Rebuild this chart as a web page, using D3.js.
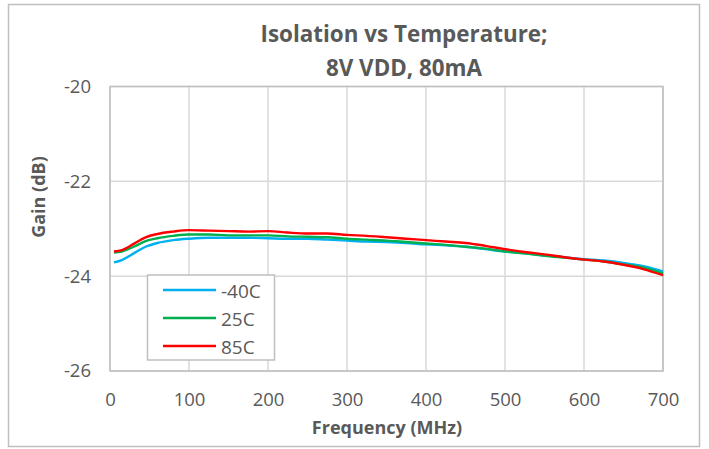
<!DOCTYPE html>
<html>
<head>
<meta charset="utf-8">
<script src="https://cdn.jsdelivr.net/npm/d3@7"></script>
<style>
  html, body { margin: 0; padding: 0; background: #fff; }
  svg { display: block; }
  text { font-family: "Open Sans", "Noto Sans", sans-serif; fill: #595959; }
</style>
</head>
<body>
<svg id="chart" width="709" height="449"></svg>
<script>
const freq = [5, 15, 30, 45, 60, 80, 100, 125, 150, 175, 200, 225, 250, 275, 300, 325, 350, 375, 400, 425, 450, 475, 500, 525, 550, 575, 600, 625, 650, 675, 700];
const gainM40 = [-23.71, -23.66, -23.52, -23.38, -23.30, -23.24, -23.21, -23.19, -23.19, -23.19, -23.20, -23.21, -23.21, -23.23, -23.25, -23.27, -23.28, -23.30, -23.33, -23.35, -23.38, -23.43, -23.48, -23.52, -23.56, -23.60, -23.64, -23.67, -23.72, -23.79, -23.90];
const gain25 = [-23.50, -23.48, -23.38, -23.26, -23.20, -23.15, -23.12, -23.12, -23.14, -23.14, -23.14, -23.16, -23.17, -23.18, -23.21, -23.23, -23.25, -23.28, -23.31, -23.34, -23.38, -23.42, -23.48, -23.52, -23.57, -23.61, -23.65, -23.69, -23.75, -23.82, -23.94];
const gain85 = [-23.48, -23.45, -23.32, -23.18, -23.11, -23.06, -23.03, -23.04, -23.05, -23.06, -23.05, -23.08, -23.10, -23.10, -23.13, -23.15, -23.18, -23.21, -23.24, -23.27, -23.30, -23.36, -23.43, -23.49, -23.54, -23.60, -23.65, -23.69, -23.76, -23.85, -23.98];
const seriesNames = ["-40C", "25C", "85C"];
const seriesColors = ["#00b0f0", "#00b050", "#ff0000"];
const xTicks = [0, 100, 200, 300, 400, 500, 600, 700];
const yTicks = [-20, -22, -24, -26];
const titleLines = ["Isolation vs Temperature;", "8V VDD, 80mA"];

const svg = d3.select("#chart");

// outer border
svg.append("rect").attr("x", 8.5).attr("y", 4.5).attr("width", 691).attr("height", 442)
  .attr("fill", "#fff").attr("stroke", "#bfbfbf").attr("stroke-width", 1.5);

const pLeft = 110, pRight = 663, pTop = 86.5, pBottom = 371;
const x = d3.scaleLinear().domain([0, 700]).range([pLeft, pRight]);
const y = d3.scaleLinear().domain([-26, -20]).range([pBottom, pTop]);

// gridlines
svg.append("g").selectAll("line").data(xTicks).join("line")
  .attr("x1", d => x(d)).attr("x2", d => x(d)).attr("y1", pTop).attr("y2", pBottom)
  .attr("stroke", "#d9d9d9").attr("stroke-width", 1.5);
svg.append("g").selectAll("line").data(yTicks).join("line")
  .attr("x1", pLeft).attr("x2", pRight).attr("y1", d => y(d)).attr("y2", d => y(d))
  .attr("stroke", "#d9d9d9").attr("stroke-width", 1.5);
// plot border
svg.append("rect").attr("x", pLeft).attr("y", pTop).attr("width", pRight - pLeft).attr("height", pBottom - pTop)
  .attr("fill", "none").attr("stroke", "#bfbfbf").attr("stroke-width", 1.5);

// axes (labels only)
const xAxis = svg.append("g").attr("transform", "translate(0,390)")
  .call(d3.axisBottom(x).tickValues(xTicks).tickSize(0).tickFormat(d3.format("d")));
xAxis.select(".domain").remove();
xAxis.selectAll("text").attr("font-size", 18.5).attr("fill", "#595959")
  .style("font-family", '"Open Sans", sans-serif');

const yAxis = svg.append("g").attr("transform", `translate(${pLeft - 16},0)`)
  .call(d3.axisLeft(y).tickValues(yTicks).tickSize(0).tickFormat(d => String(d)));
yAxis.select(".domain").remove();
yAxis.selectAll("text").attr("font-size", 18.5).attr("fill", "#595959")
  .style("font-family", '"Open Sans", sans-serif');

// series lines
const allSeries = [gainM40, gain25, gain85];
const line = d3.line().x((d, i) => x(freq[i])).y(d => y(d)).curve(d3.curveMonotoneX);
allSeries.forEach((s, k) => {
  svg.append("path").datum(s).attr("d", line).attr("fill", "none")
    .attr("stroke", seriesColors[k]).attr("stroke-width", 2.4);
});

// title
svg.append("g").selectAll("text").data(titleLines).join("text")
  .attr("x", 404).attr("y", (d, i) => 42 + i * 33.5)
  .attr("text-anchor", "middle").attr("font-size", 22.4).attr("font-weight", "bold")
  .text(d => d);

// axis titles
svg.append("text").attr("x", 387).attr("y", 434).attr("text-anchor", "middle")
  .attr("font-size", 18).attr("font-weight", "bold").text("Frequency (MHz)");
svg.append("text").attr("transform", "translate(45,197) rotate(-90)").attr("text-anchor", "middle")
  .attr("font-size", 18).attr("font-weight", "bold").text("Gain (dB)");

// legend
const lg = svg.append("g");
lg.append("rect").attr("x", 147.5).attr("y", 275).attr("width", 127).attr("height", 85)
  .attr("fill", "#fff").attr("stroke", "#bfbfbf").attr("stroke-width", 1.5);
seriesNames.forEach((n, k) => {
  const yy = 290 + k * 28;
  lg.append("line").attr("x1", 163).attr("x2", 216).attr("y1", yy).attr("y2", yy)
    .attr("stroke", seriesColors[k]).attr("stroke-width", 2.4);
  lg.append("text").attr("x", 221).attr("y", yy + 8).attr("font-size", 19).text(n);
});
</script>
</body>
</html>
